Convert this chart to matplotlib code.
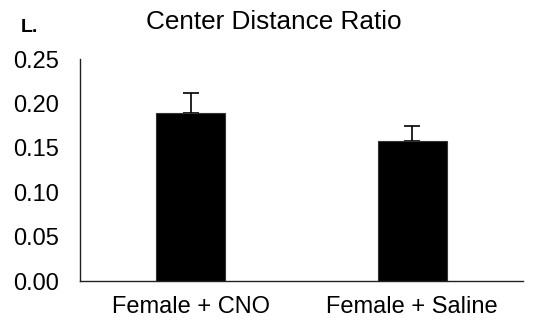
import matplotlib
matplotlib.use('Agg')
import matplotlib.pyplot as plt

groups = ['Female + CNO', 'Female + Saline']
means = [0.189, 0.158]
errs = [0.023, 0.016]
yticks = [0.00, 0.05, 0.10, 0.15, 0.20, 0.25]

plt.rcParams['font.family'] = ['Liberation Sans', 'DejaVu Sans']

fig = plt.figure(figsize=(5.42, 3.25), dpi=100)
ax = fig.add_axes([80 / 542, 1 - 281 / 325, 443 / 542, 222 / 325])

x = [0.5, 1.5]
ax.bar(x, means, width=0.31, color='black', edgecolor='#333333', linewidth=0.8, zorder=2)
ax.errorbar(x, means, yerr=[[0, 0], errs], fmt='none', ecolor='black',
            elinewidth=1.2, capsize=6, capthick=1.2, zorder=1)

ax.set_xlim(0, 2)
ax.set_ylim(0, 0.25)
ax.set_xticks(x)
ax.set_xticklabels(groups, fontsize=17)
ax.set_yticks(yticks)
ax.set_yticklabels(['%.2f' % v for v in yticks], fontsize=17)
ax.tick_params(axis='both', length=0)
ax.tick_params(axis='y', pad=15)
ax.tick_params(axis='x', pad=11)

for s in ['top', 'right']:
    ax.spines[s].set_visible(False)
for s in ['left', 'bottom']:
    ax.spines[s].set_color('#222222')
    ax.spines[s].set_linewidth(1.0)

fig.text(274 / 542, 1 - 22 / 325, 'Center Distance Ratio', fontsize=18.8,
         ha='center', va='center')
fig.text(29 / 542, 1 - 28 / 325, 'L.', fontsize=14, fontweight='bold',
         ha='center', va='center')

fig.savefig('out.png', dpi=100)
